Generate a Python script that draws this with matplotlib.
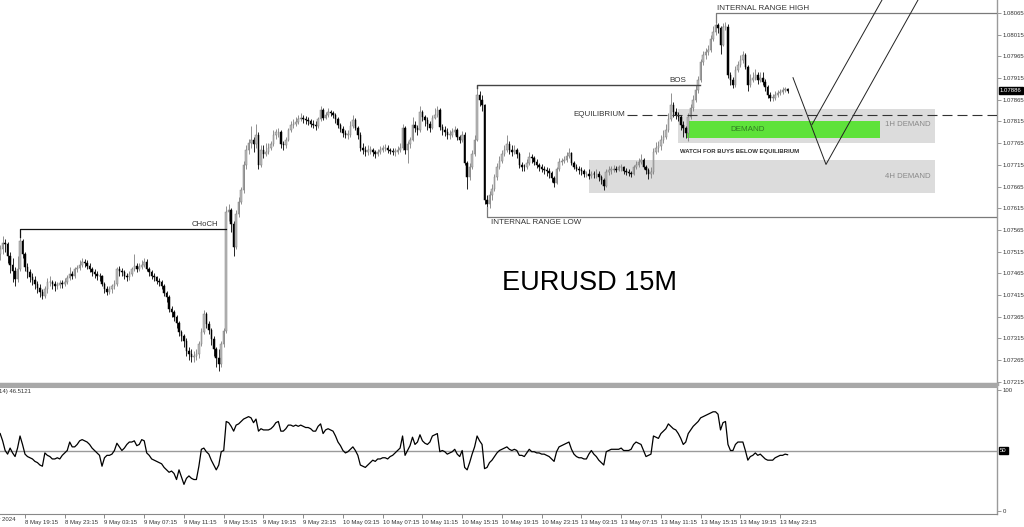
import matplotlib
matplotlib.use('Agg')
import matplotlib.pyplot as plt
from matplotlib.patches import Rectangle
import numpy as np

# ---------------- data ----------------
first_open = 1.07510
closes = [
 1.07520, 1.07535, 1.07532, 1.07505, 1.07485, 1.07470, 1.07451, 1.07474, 1.07540, 1.07509,
 1.07480, 1.07469, 1.07456, 1.07450, 1.07440, 1.07432, 1.07423, 1.07412, 1.07428, 1.07444,
 1.07446, 1.07440, 1.07435, 1.07438, 1.07442, 1.07440, 1.07446, 1.07455, 1.07463, 1.07460,
 1.07474, 1.07478, 1.07485, 1.07492, 1.07488, 1.07483, 1.07475, 1.07469, 1.07463, 1.07460,
 1.07458, 1.07440, 1.07430, 1.07423, 1.07428, 1.07435, 1.07440, 1.07474, 1.07470, 1.07469,
 1.07460, 1.07456, 1.07463, 1.07475, 1.07481, 1.07475, 1.07479, 1.07485, 1.07492, 1.07475,
 1.07469, 1.07460, 1.07456, 1.07448, 1.07444, 1.07435, 1.07420, 1.07410, 1.07382, 1.07375,
 1.07364, 1.07350, 1.07329, 1.07320, 1.07308, 1.07285, 1.07280, 1.07272, 1.07275, 1.07279,
 1.07302, 1.07330, 1.07371, 1.07348, 1.07335, 1.07313, 1.07290, 1.07270, 1.07256, 1.07302,
 1.07331, 1.07607, 1.07610, 1.07578, 1.07525, 1.07601, 1.07630, 1.07658, 1.07715, 1.07750,
 1.07765, 1.07773, 1.07762, 1.07785, 1.07715, 1.07750, 1.07740, 1.07745, 1.07755, 1.07762,
 1.07785, 1.07790, 1.07791, 1.07762, 1.07760, 1.07773, 1.07795, 1.07808, 1.07810, 1.07814,
 1.07820, 1.07824, 1.07820, 1.07819, 1.07815, 1.07810, 1.07808, 1.07805, 1.07820, 1.07842,
 1.07824, 1.07830, 1.07837, 1.07835, 1.07830, 1.07820, 1.07808, 1.07798, 1.07789, 1.07785,
 1.07785, 1.07805, 1.07819, 1.07800, 1.07785, 1.07755, 1.07750, 1.07745, 1.07750, 1.07750,
 1.07745, 1.07739, 1.07745, 1.07750, 1.07753, 1.07755, 1.07750, 1.07748, 1.07745, 1.07745,
 1.07750, 1.07755, 1.07801, 1.07750, 1.07762, 1.07773, 1.07808, 1.07800, 1.07796, 1.07837,
 1.07825, 1.07819, 1.07810, 1.07801, 1.07824, 1.07830, 1.07842, 1.07803, 1.07795, 1.07791,
 1.07785, 1.07785, 1.07790, 1.07796, 1.07780, 1.07773, 1.07785, 1.07720, 1.07686, 1.07711,
 1.07740, 1.07773, 1.07877, 1.07865, 1.07853, 1.07635, 1.07624, 1.07646, 1.07660, 1.07686,
 1.07711, 1.07725, 1.07739, 1.07750, 1.07762, 1.07750, 1.07745, 1.07750, 1.07740, 1.07715,
 1.07710, 1.07709, 1.07720, 1.07734, 1.07730, 1.07722, 1.07715, 1.07711, 1.07705, 1.07704,
 1.07700, 1.07697, 1.07685, 1.07674, 1.07705, 1.07722, 1.07725, 1.07727, 1.07735, 1.07742,
 1.07720, 1.07711, 1.07706, 1.07704, 1.07700, 1.07693, 1.07695, 1.07690, 1.07695, 1.07693,
 1.07695, 1.07686, 1.07680, 1.07667, 1.07699, 1.07704, 1.07704, 1.07706, 1.07704, 1.07709,
 1.07709, 1.07702, 1.07699, 1.07697, 1.07695, 1.07709, 1.07715, 1.07722, 1.07727, 1.07710,
 1.07704, 1.07695, 1.07699, 1.07745, 1.07755, 1.07758, 1.07773, 1.07780, 1.07796, 1.07820,
 1.07853, 1.07837, 1.07830, 1.07826, 1.07808, 1.07800, 1.07789, 1.07826, 1.07845, 1.07865,
 1.07888, 1.07910, 1.07952, 1.07969, 1.07975, 1.07980, 1.08005, 1.08021, 1.08038, 1.08031,
 1.07992, 1.08033, 1.08033, 1.07923, 1.07910, 1.07900, 1.07934, 1.07945, 1.07957, 1.07969,
 1.07940, 1.07900, 1.07911, 1.07916, 1.07923, 1.07911, 1.07916, 1.07906, 1.07895, 1.07875,
 1.07870, 1.07870, 1.07877, 1.07880, 1.07883, 1.07888, 1.07890, 1.07886]
highs = [
 1.07530, 1.07550, 1.07545, 1.07538, 1.07515, 1.07500, 1.07480, 1.07505, 1.07548, 1.07545,
 1.07515, 1.07490, 1.07475, 1.07465, 1.07458, 1.07448, 1.07440, 1.07430, 1.07435, 1.07455,
 1.07460, 1.07450, 1.07448, 1.07445, 1.07450, 1.07450, 1.07455, 1.07462, 1.07480, 1.07470,
 1.07480, 1.07485, 1.07495, 1.07500, 1.07498, 1.07495, 1.07488, 1.07480, 1.07475, 1.07470,
 1.07465, 1.07462, 1.07445, 1.07435, 1.07435, 1.07440, 1.07450, 1.07480, 1.07482, 1.07478,
 1.07472, 1.07465, 1.07470, 1.07480, 1.07510, 1.07490, 1.07488, 1.07495, 1.07500, 1.07498,
 1.07480, 1.07472, 1.07465, 1.07460, 1.07455, 1.07450, 1.07440, 1.07425, 1.07415, 1.07390,
 1.07380, 1.07370, 1.07355, 1.07335, 1.07325, 1.07315, 1.07295, 1.07290, 1.07285, 1.07290,
 1.07310, 1.07340, 1.07380, 1.07375, 1.07355, 1.07340, 1.07320, 1.07295, 1.07290, 1.07310,
 1.07340, 1.07620, 1.07625, 1.07615, 1.07585, 1.07610, 1.07640, 1.07665, 1.07725, 1.07760,
 1.07775, 1.07805, 1.07780, 1.07810, 1.07790, 1.07760, 1.07760, 1.07765, 1.07765, 1.07770,
 1.07795, 1.07798, 1.07800, 1.07795, 1.07770, 1.07780, 1.07800, 1.07815, 1.07820, 1.07825,
 1.07830, 1.07835, 1.07830, 1.07828, 1.07825, 1.07820, 1.07818, 1.07815, 1.07825, 1.07850,
 1.07845, 1.07838, 1.07845, 1.07842, 1.07840, 1.07835, 1.07825, 1.07812, 1.07805, 1.07795,
 1.07795, 1.07815, 1.07830, 1.07822, 1.07805, 1.07790, 1.07765, 1.07758, 1.07760, 1.07758,
 1.07755, 1.07750, 1.07752, 1.07758, 1.07760, 1.07762, 1.07760, 1.07755, 1.07755, 1.07755,
 1.07758, 1.07765, 1.07810, 1.07805, 1.07770, 1.07780, 1.07825, 1.07815, 1.07808, 1.07850,
 1.07842, 1.07830, 1.07825, 1.07815, 1.07830, 1.07845, 1.07850, 1.07845, 1.07810, 1.07805,
 1.07800, 1.07795, 1.07800, 1.07805, 1.07800, 1.07785, 1.07792, 1.07790, 1.07725, 1.07720,
 1.07750, 1.07785, 1.07893, 1.07885, 1.07875, 1.07855, 1.07645, 1.07655, 1.07670, 1.07695,
 1.07720, 1.07735, 1.07750, 1.07760, 1.07785, 1.07770, 1.07760, 1.07760, 1.07755, 1.07745,
 1.07722, 1.07718, 1.07728, 1.07745, 1.07740, 1.07735, 1.07728, 1.07720, 1.07718, 1.07712,
 1.07710, 1.07708, 1.07700, 1.07690, 1.07710, 1.07730, 1.07732, 1.07735, 1.07745, 1.07753,
 1.07745, 1.07725, 1.07718, 1.07712, 1.07710, 1.07705, 1.07702, 1.07705, 1.07702, 1.07702,
 1.07705, 1.07700, 1.07692, 1.07685, 1.07705, 1.07712, 1.07712, 1.07715, 1.07712, 1.07715,
 1.07718, 1.07712, 1.07708, 1.07705, 1.07702, 1.07715, 1.07725, 1.07730, 1.07740, 1.07730,
 1.07715, 1.07708, 1.07710, 1.07755, 1.07768, 1.07770, 1.07785, 1.07795, 1.07810, 1.07835,
 1.07880, 1.07860, 1.07845, 1.07838, 1.07830, 1.07815, 1.07805, 1.07835, 1.07855, 1.07875,
 1.07898, 1.07920, 1.07960, 1.07978, 1.07985, 1.07992, 1.08015, 1.08035, 1.08045, 1.08043,
 1.08035, 1.08042, 1.08044, 1.08040, 1.07930, 1.07918, 1.07942, 1.07955, 1.07968, 1.07978,
 1.07972, 1.07945, 1.07925, 1.07930, 1.07935, 1.07928, 1.07928, 1.07930, 1.07912, 1.07900,
 1.07882, 1.07878, 1.07885, 1.07888, 1.07890, 1.07895, 1.07895, 1.07893]
lows = [
 1.07495, 1.07510, 1.07515, 1.07490, 1.07465, 1.07445, 1.07435, 1.07445, 1.07470, 1.07500,
 1.07470, 1.07455, 1.07445, 1.07438, 1.07430, 1.07420, 1.07410, 1.07405, 1.07408, 1.07420,
 1.07435, 1.07430, 1.07425, 1.07428, 1.07432, 1.07432, 1.07435, 1.07440, 1.07450, 1.07452,
 1.07455, 1.07468, 1.07472, 1.07480, 1.07480, 1.07475, 1.07468, 1.07460, 1.07455, 1.07450,
 1.07448, 1.07435, 1.07420, 1.07415, 1.07418, 1.07420, 1.07430, 1.07435, 1.07460, 1.07458,
 1.07452, 1.07448, 1.07450, 1.07458, 1.07470, 1.07468, 1.07470, 1.07475, 1.07480, 1.07470,
 1.07460, 1.07452, 1.07448, 1.07440, 1.07435, 1.07428, 1.07412, 1.07400, 1.07375, 1.07365,
 1.07355, 1.07340, 1.07320, 1.07310, 1.07295, 1.07275, 1.07265, 1.07260, 1.07260, 1.07265,
 1.07270, 1.07298, 1.07325, 1.07340, 1.07325, 1.07300, 1.07275, 1.07250, 1.07239, 1.07250,
 1.07295, 1.07328, 1.07585, 1.07560, 1.07505, 1.07520, 1.07595, 1.07625, 1.07650, 1.07705,
 1.07740, 1.07755, 1.07745, 1.07755, 1.07705, 1.07710, 1.07730, 1.07735, 1.07740, 1.07750,
 1.07758, 1.07775, 1.07780, 1.07755, 1.07750, 1.07755, 1.07770, 1.07790, 1.07800, 1.07805,
 1.07810, 1.07815, 1.07812, 1.07810, 1.07808, 1.07802, 1.07800, 1.07795, 1.07800, 1.07815,
 1.07818, 1.07820, 1.07825, 1.07828, 1.07822, 1.07812, 1.07800, 1.07790, 1.07780, 1.07778,
 1.07775, 1.07780, 1.07800, 1.07795, 1.07775, 1.07748, 1.07740, 1.07735, 1.07738, 1.07740,
 1.07735, 1.07730, 1.07735, 1.07740, 1.07745, 1.07748, 1.07742, 1.07740, 1.07738, 1.07735,
 1.07740, 1.07745, 1.07750, 1.07740, 1.07720, 1.07755, 1.07770, 1.07790, 1.07785, 1.07790,
 1.07815, 1.07805, 1.07795, 1.07790, 1.07798, 1.07820, 1.07825, 1.07795, 1.07785, 1.07782,
 1.07775, 1.07775, 1.07780, 1.07785, 1.07772, 1.07765, 1.07768, 1.07715, 1.07660, 1.07680,
 1.07705, 1.07735, 1.07770, 1.07850, 1.07840, 1.07625, 1.07618, 1.07615, 1.07635, 1.07655,
 1.07680, 1.07705, 1.07720, 1.07735, 1.07745, 1.07740, 1.07735, 1.07740, 1.07730, 1.07708,
 1.07700, 1.07700, 1.07705, 1.07715, 1.07720, 1.07715, 1.07708, 1.07702, 1.07698, 1.07695,
 1.07690, 1.07685, 1.07675, 1.07665, 1.07670, 1.07700, 1.07715, 1.07720, 1.07722, 1.07730,
 1.07715, 1.07705, 1.07700, 1.07695, 1.07692, 1.07688, 1.07688, 1.07682, 1.07685, 1.07685,
 1.07685, 1.07678, 1.07670, 1.07658, 1.07665, 1.07692, 1.07695, 1.07698, 1.07698, 1.07700,
 1.07702, 1.07695, 1.07692, 1.07690, 1.07688, 1.07692, 1.07705, 1.07710, 1.07718, 1.07705,
 1.07695, 1.07682, 1.07685, 1.07695, 1.07740, 1.07745, 1.07750, 1.07765, 1.07775, 1.07790,
 1.07815, 1.07825, 1.07820, 1.07815, 1.07795, 1.07780, 1.07776, 1.07770, 1.07820, 1.07840,
 1.07860, 1.07880, 1.07905, 1.07945, 1.07960, 1.07968, 1.07975, 1.08000, 1.08015, 1.08020,
 1.07970, 1.07988, 1.08025, 1.07915, 1.07900, 1.07893, 1.07895, 1.07930, 1.07940, 1.07950,
 1.07935, 1.07885, 1.07895, 1.07905, 1.07910, 1.07902, 1.07905, 1.07900, 1.07885, 1.07868,
 1.07862, 1.07862, 1.07865, 1.07872, 1.07875, 1.07878, 1.07882, 1.07880]
rsi = [
 64, 58, 50, 47, 52, 48, 45, 52, 62, 55,
 47, 45, 44, 43, 41, 40, 38, 37, 48, 46,
 45, 43, 43, 44, 43, 46, 48, 50, 57, 53,
 53, 55, 58, 59, 58, 57, 55, 52, 50, 48,
 46, 37, 44, 46, 46, 47, 50, 56, 53, 50,
 52, 55, 57, 57, 58, 54, 55, 59, 58, 48,
 46, 43, 42, 41, 40, 39, 36, 34, 32, 33,
 31, 26, 34, 28, 22, 27, 29, 27, 26, 26,
 37, 51, 52, 49, 47, 42, 38, 34, 38, 49,
 50, 74, 73, 70, 66, 71, 72, 74, 76, 77,
 78, 77, 73, 76, 66, 68, 67, 67, 67, 68,
 70, 73, 74, 66, 66, 68, 71, 71, 70, 71,
 70, 71, 70, 69, 69, 68, 66, 66, 70, 72,
 64, 67, 68, 67, 66, 62, 57, 54, 50, 48,
 49, 51, 53, 50, 46, 38, 37, 36, 38, 40,
 42, 41, 43, 43, 44, 44, 43, 45, 46, 48,
 50, 52, 62, 46, 50, 54, 61, 55, 57, 63,
 58, 56, 55, 57, 62, 63, 64, 49, 50, 49,
 47, 48, 49, 51, 47, 45, 50, 36, 34, 40,
 47, 53, 62, 58, 55, 35, 36, 40, 42, 45,
 48, 50, 51, 52, 53, 51, 50, 51, 50, 46,
 46, 45, 48, 51, 49, 49, 48, 48, 47, 47,
 46, 45, 43, 41, 49, 53, 54, 55, 56, 57,
 51, 47, 45, 44, 44, 43, 43, 47, 50, 47,
 45, 42, 40, 38, 49, 50, 51, 51, 51, 51,
 52, 50, 50, 50, 51, 55, 57, 56, 55, 50,
 45, 46, 47, 62, 61, 60, 64, 66, 68, 72,
 70, 68, 67, 64, 60, 55, 57, 64, 67, 70,
 72, 74, 77, 78, 79, 80, 81, 82, 82, 80,
 67, 73, 74, 55, 50, 50, 55, 57, 57, 57,
 50, 42, 45, 46, 48, 46, 47, 45, 43, 42,
 42, 42, 44, 45, 46, 46, 47, 46.5]

time_labels = ["8 May 19:15", "8 May 23:15", "9 May 03:15", "9 May 07:15", "9 May 11:15",
               "9 May 15:15", "9 May 19:15", "9 May 23:15", "10 May 03:15", "10 May 07:15",
               "10 May 11:15", "10 May 15:15", "10 May 19:15", "10 May 23:15", "13 May 03:15",
               "13 May 07:15", "13 May 11:15", "13 May 15:15", "13 May 19:15", "13 May 23:15"]
first_label = "8 May 2024"
price_ticks = [1.07215, 1.07265, 1.07315, 1.07365, 1.07415, 1.07465, 1.07515, 1.07565, 1.07615,
               1.07665, 1.07715, 1.07765, 1.07815, 1.07865, 1.07915, 1.07965, 1.08015, 1.08065]
current_price = 1.07886
rsi_value_text = "RSI(14) 46.5121"

# key levels
choch_level = 1.07568
bos_level = 1.07898
range_high = 1.08065
range_low = 1.07596
equilibrium = 1.07830
zone_1h = (1.07766, 1.07844)
zone_green = (1.07778, 1.07817)
zone_4h = (1.07651, 1.07727)

# ---------------- layout ----------------
W, H = 1024, 527
fig = plt.figure(figsize=(W / 100, H / 100), dpi=100)
fig.patch.set_facecolor('white')
PPB = 2.484   # pixels per bar
X0 = 0.16
def bx(px):
    return (px - X0) / PPB

AX_R = 997
ax = fig.add_axes([0, 1 - 384 / H, AX_R / W, 384 / H])
ax2 = fig.add_axes([0, 1 - 514 / H, AX_R / W, (514 - 387) / H])

FAM = ['Liberation Sans', 'DejaVu Sans']
TFS = 4.3

n = min(len(closes), len(highs), len(lows))
c = np.array(closes[:n])
o = np.array([first_open] + closes[:n - 1])
hi = np.maximum(np.array(highs[:n]), np.maximum(o, c))
lo = np.minimum(np.array(lows[:n]), np.minimum(o, c))
idx = np.arange(n)
bull = c >= o
bear = ~bull

# zones
ax.add_patch(Rectangle((bx(678), zone_1h[0]), bx(935) - bx(678), zone_1h[1] - zone_1h[0],
                       fc='#dcdcdc', ec='none', zorder=0))
ax.add_patch(Rectangle((bx(589), zone_4h[0]), bx(935) - bx(589), zone_4h[1] - zone_4h[0],
                       fc='#dcdcdc', ec='none', zorder=0))
ax.add_patch(Rectangle((bx(687), zone_green[0]), bx(880) - bx(687), zone_green[1] - zone_green[0],
                       fc='#5ee23a', ec='none', zorder=1))

# candles
ax.vlines(idx[bull], lo[bull], hi[bull], color='#7e7e7e', lw=0.6, zorder=3)
ax.vlines(idx[bear], lo[bear], hi[bear], color='#000000', lw=0.6, zorder=3)
minh = 0.000012
ax.bar(idx[bull], np.maximum(c[bull] - o[bull], minh), bottom=o[bull], width=0.62,
       color='#bcbcbc', edgecolor='#7e7e7e', lw=0.35, zorder=4)
ax.bar(idx[bear], np.maximum(o[bear] - c[bear], minh), bottom=c[bear], width=0.62,
       color='#000000', edgecolor='#000000', lw=0.35, zorder=4)

# structure lines
xr = bx(AX_R + 5)
ax.plot([8, 8, bx(226)], [hi[8], choch_level, choch_level], color='#111111', lw=0.9, zorder=5)
ax.text(bx(218), choch_level + 0.00002, 'CHoCH', family=FAM, fontsize=5.6, color='#333333',
        ha='right', va='bottom', zorder=6)
ax.plot([192, 192, bx(700)], [hi[192], bos_level, bos_level], color='#444444', lw=1.0, zorder=5)
ax.text(bx(686), bos_level + 0.00003, 'BOS', family=FAM, fontsize=5.8, color='#333333',
        ha='right', va='bottom', zorder=6)
ax.plot([288, 288, xr], [hi[288], range_high, range_high], color='#7a7a7a', lw=0.9, zorder=5)
ax.text(bx(717), range_high + 0.00003, 'INTERNAL RANGE HIGH', family=FAM, fontsize=5.8,
        color='#333333', ha='left', va='bottom', zorder=6)
ax.plot([196, 196, xr], [lo[196], range_low, range_low], color='#7a7a7a', lw=0.9, zorder=5)
ax.text(bx(491), range_low - 0.00005, 'INTERNAL RANGE LOW', family=FAM, fontsize=5.8,
        color='#333333', ha='left', va='top', zorder=6)
ax.plot([bx(627), xr], [equilibrium, equilibrium], color='#333333', lw=0.8,
        dashes=(9, 4.5), zorder=5)
ax.text(bx(625), equilibrium, 'EQUILIBRIUM', family=FAM, fontsize=5.8, color='#333333',
        ha='right', va='center', zorder=6)

# zone labels
ax.text(bx(748), sum(zone_green) / 2, 'DEMAND', family=FAM, fontsize=5.8, color='#2f7d22',
        ha='center', va='center', zorder=6)
ax.text(bx(885), sum(zone_1h) / 2 + 0.00002, '1H DEMAND', family=FAM, fontsize=5.6,
        color='#8a8a8a', ha='left', va='center', zorder=6)
ax.text(bx(885), sum(zone_4h) / 2, '4H DEMAND', family=FAM, fontsize=5.6,
        color='#8a8a8a', ha='left', va='center', zorder=6)
ax.text(bx(680), 1.07745, 'WATCH FOR BUYS BELOW EQUILIBRIUM', family=FAM, fontsize=4.3,
        color='#333333', ha='left', va='center', zorder=6, fontweight='bold')

# projected path lines
ax.plot([bx(793), bx(826), bx(918)], [1.07916, 1.07716, 1.08095], color='#222222', lw=0.7, zorder=6)
ax.plot([bx(812), bx(882)], [1.07808, 1.08095], color='#222222', lw=0.7, zorder=6)

ax.text(590 / AX_R, 1 - 283 / 384, 'EURUSD 15M', transform=ax.transAxes, family=FAM,
        fontsize=19.5, color='#000000', ha='center', va='center')

ax.set_xlim(bx(0), bx(AX_R))
ax.set_ylim(1.07210, 1.08095)
ax.set_xticks([])
ax.yaxis.tick_right()
ax.set_yticks(price_ticks)
ax.set_yticklabels([f'{p:.5f}' for p in price_ticks], family=FAM, fontsize=TFS, color='#333333')
ax.tick_params(axis='y', length=3, width=0.6, color='#888888', pad=1.2)
for s in ['top', 'left']:
    ax.spines[s].set_visible(False)
ax.spines['right'].set_color('#9a9a9a')
ax.spines['right'].set_linewidth(1.0)
ax.spines['bottom'].set_color('#a8a8a8')
ax.spines['bottom'].set_linewidth(2.5)
ax.text(1.003, current_price, f'{current_price:.5f}', transform=ax.get_yaxis_transform(),
        family=FAM, fontsize=TFS, color='white', ha='left', va='center',
        bbox=dict(boxstyle='square,pad=0.15', fc='black', ec='black'), clip_on=False, zorder=10)

# ---------------- RSI ----------------
m = min(len(rsi), n)
ax2.plot(np.arange(m), rsi[:m], color='#000000', lw=0.9, zorder=3)
ax2.axhline(50, color='#9a9a9a', lw=1.0, zorder=1)
ax2.set_xlim(bx(0), bx(AX_R))
ax2.set_ylim(-2.5, 102.5)
ax2.yaxis.tick_right()
ax2.set_yticks([0, 100])
ax2.set_yticklabels(['0', '100'], family=FAM, fontsize=TFS, color='#333333')
ax2.tick_params(axis='y', length=3, width=0.6, color='#888888', pad=1.2)
ax2.text(1.003, 50, '50', transform=ax2.get_yaxis_transform(), family=FAM, fontsize=TFS,
         color='white', ha='left', va='center',
         bbox=dict(boxstyle='square,pad=0.15', fc='black', ec='black'), clip_on=False)
ax2.text(31 / AX_R, 1 - (392 - 387) / 127, rsi_value_text, transform=ax2.transAxes,
         family=FAM, fontsize=TFS, color='#333333', ha='right', va='center')

tick_bars = [10 + 16 * k for k in range(len(time_labels))]
ax2.set_xticks(tick_bars)
ax2.set_xticklabels(time_labels, family=FAM, fontsize=TFS, color='#333333')
for t in ax2.get_xticklabels():
    t.set_ha('left')
ax2.tick_params(axis='x', length=3, width=0.6, color='#777777', pad=1.5)
ax2.spines['left'].set_visible(False)
ax2.spines['top'].set_color('#a8a8a8')
ax2.spines['top'].set_linewidth(1.5)
ax2.spines['right'].set_color('#9a9a9a')
ax2.spines['right'].set_linewidth(1.0)
ax2.spines['bottom'].set_color('#888888')
ax2.spines['bottom'].set_linewidth(0.8)
fig.text(15 / W, 1 - 520 / H, first_label, family=FAM, fontsize=TFS, color='#333333',
         ha='right', va='center')

fig.savefig('out.png', dpi=100, facecolor='white')
